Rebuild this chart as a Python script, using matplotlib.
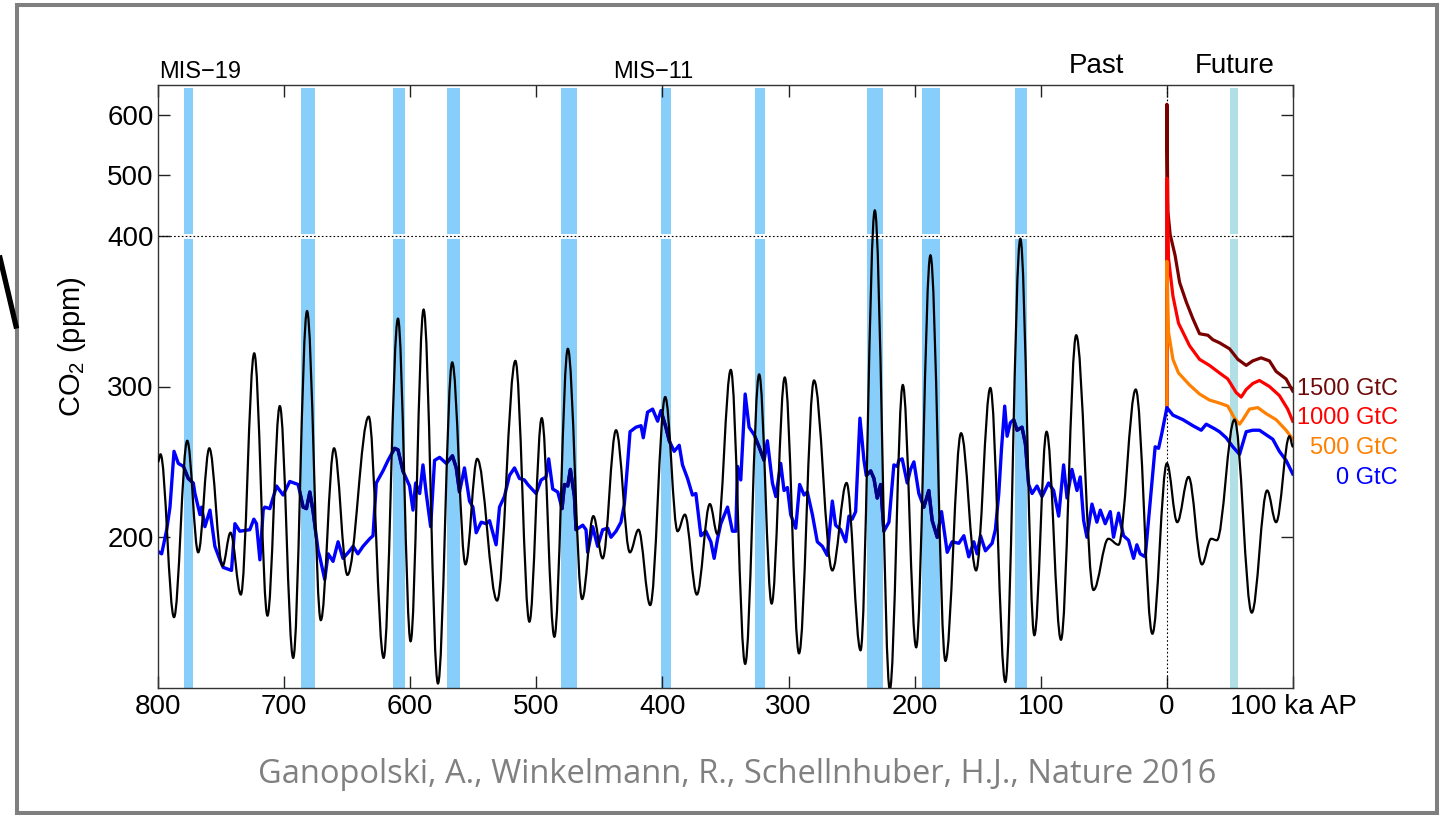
import matplotlib.pyplot as plt
import matplotlib.patches as mpatches
from matplotlib.path import Path
from matplotlib.lines import Line2D
from matplotlib.ticker import NullLocator
import numpy as np

plt.rcParams['font.family'] = ['Liberation Sans', 'DejaVu Sans']
plt.rcParams['mathtext.fontset'] = 'custom'
plt.rcParams['mathtext.rm'] = 'Liberation Sans'
plt.rcParams['mathtext.it'] = 'Liberation Sans:italic'

# time in ka (negative = past), CO2 in ppm
# black curve: turning points
black_t = [-800, -798, -787.3, -776.8, -768.1, -759.3, -748.8, -742.5, -734.3, -723.7,
           -713.2, -703.4, -692.8, -681.8, -670.9, -660.4, -649.8, -632.9, -621.1, -609.7,
           -599.7, -589.4, -578.0, -566.7, -556.2, -546.9, -531.1, -516.6, -505.5, -495.7,
           -485.7, -475.0, -463.7, -454.8, -447.4, -436.8, -425.8, -419.0, -409.7, -397.8,
           -388.0, -382.2, -372.7, -362.4, -356.4, -345.8, -334.4, -323.3, -313.4, -303.0,
           -291.7, -279.8, -265.3, -254.0, -242.9, -231.6, -219.7, -209.4, -198.8, -187.5,
           -175.6, -163.2, -151.3, -140.0, -128.1, -116.2, -105.1, -95.4, -84.0, -71.9,
           -58.2, -46.4, -38.4, -24.7, -11.5, 0.0, 8.2, 17.2, 27.8, 35.1,
           39.6, 53.6, 67.3, 79.5, 86.6, 97.2, 100]
black_v = [250, 255, 147, 264, 190, 259, 181, 203, 162, 322,
           148, 287, 120, 350, 145, 259, 175, 280, 120, 345,
           131, 351, 103, 316, 182, 252, 158, 317, 144, 279,
           134, 325, 159, 214, 186, 271, 190, 205, 155, 293,
           204, 215, 162, 222, 202, 311, 116, 308, 156, 306,
           123, 304, 178, 236, 125, 442, 99, 301, 127, 387,
           118, 269, 178, 299, 104, 398, 135, 270, 132, 334,
           165, 199, 195, 298, 136, 249, 210, 240, 182, 199,
           198, 278, 150, 231, 210, 267, 260]

# blue curve (0 GtC)
blue_t = [-798.9, -797.1, -793.1, -790.5, -787.3, -783.9, -779.9, -776.0, -772.0, -770.7,
          -766.7, -765.4, -762.8, -758.8, -754.9, -750.9, -748.3, -741.7, -739.0, -735.1,
          -727.2, -724.0, -721.9, -719.2, -716.6, -715.3, -711.3, -706.0, -700.8, -695.5,
          -688.9, -684.9, -682.3, -679.6, -677.0, -673.0, -671.7, -667.8, -665.1, -661.2,
          -657.2, -653.3, -648.0, -645.3, -641.5, -637.4, -632.1, -629.5, -626.9, -621.6,
          -617.6, -612.4, -609.7, -605.8, -600.5, -597.8, -595.7, -592.5, -589.9, -587.3,
          -583.8, -580.7, -576.7, -571.4, -566.5, -563.5, -560.9, -557.0, -553.0, -550.3,
          -547.7, -543.7, -539.8, -537.1, -531.9, -529.2, -525.3, -521.3, -517.3, -513.4,
          -509.4, -506.8, -500.2, -496.2, -492.3, -490.2, -487.0, -483.0, -479.6, -477.7,
          -475.1, -473.0, -469.8, -468.5, -463.2, -460.6, -459.3, -455.3, -451.4, -447.4,
          -443.4, -440.8, -436.8, -432.9, -430.2, -427.6, -425.7, -421.0, -417.0, -415.2,
          -411.8, -407.8, -403.8, -401.2, -397.3, -394.6, -390.7, -386.7, -384.1, -380.1,
          -376.2, -373.5, -369.5, -365.6, -361.6, -359.0, -356.3, -353.7, -348.4, -344.5,
          -341.8, -340.5, -337.9, -334.4, -331.3, -327.3, -323.4, -319.4, -316.8, -312.8,
          -310.1, -306.2, -303.6, -300.9, -298.3, -294.3, -291.2, -287.7, -285.1, -281.1,
          -277.2, -273.2, -269.3, -265.3, -262.7, -258.7, -254.7, -252.1, -249.5, -246.8,
          -243.4, -240.2, -238.4, -234.9, -232.3, -229.7, -227.0, -224.4, -220.4, -216.5,
          -213.8, -212.5, -209.9, -205.9, -203.3, -200.6, -196.7, -192.7, -188.8, -186.1,
          -182.1, -178.7, -174.2, -170.3, -165.0, -161.0, -157.1, -153.1, -150.5, -147.8,
          -143.9, -138.6, -136.0, -133.3, -131.2, -128.6, -126.7, -124.1, -121.5, -118.8,
          -114.9, -112.2, -109.6, -106.9, -103.0, -99.0, -93.8, -89.8, -85.8, -81.9,
          -79.2, -75.3, -71.3, -68.7, -66.0, -63.4, -59.4, -55.5, -52.8, -48.9,
          -44.9, -42.3, -38.3, -34.4, -30.4, -26.4, -23.8, -21.2, -17.2, -14.6,
          -11.9, -9.3, -6.6, -4.0, 0.0, 4.8, 12.7, 20.6, 27.2, 31.2,
          37.8, 41.7, 47.0, 52.3, 57.6, 62.9, 68.1, 73.4, 78.7, 84.0,
          89.2, 94.5, 99.8]
blue_v = [190, 189, 205, 220, 257, 249, 247, 239, 236, 229,
          215, 220, 207, 218, 194, 185, 180, 178, 209, 204,
          205, 212, 209, 185, 218, 220, 219, 234, 228, 237,
          235, 220, 219, 230, 217, 191, 187, 172, 189, 184,
          197, 186, 191, 194, 189, 194, 199, 201, 236, 244,
          251, 259, 258, 244, 234, 218, 236, 229, 248, 229,
          207, 251, 253, 249, 254, 246, 230, 246, 224, 220,
          203, 210, 209, 211, 195, 220, 227, 241, 246, 239,
          238, 235, 229, 238, 240, 252, 232, 230, 219, 235,
          234, 245, 227, 205, 208, 205, 190, 207, 194, 205,
          206, 200, 204, 210, 222, 249, 270, 273, 274, 266,
          283, 285, 277, 284, 273, 264, 257, 261, 248, 239,
          228, 229, 201, 204, 197, 186, 199, 209, 220, 204,
          204, 247, 238, 295, 273, 268, 260, 251, 264, 236,
          227, 249, 231, 233, 215, 206, 235, 228, 230, 215,
          197, 194, 188, 224, 208, 205, 197, 214, 212, 217,
          279, 251, 241, 244, 239, 226, 235, 204, 210, 248,
          247, 251, 252, 236, 245, 250, 229, 220, 231, 211,
          200, 217, 190, 197, 196, 201, 187, 197, 189, 201,
          191, 196, 205, 229, 258, 287, 267, 276, 278, 271,
          273, 262, 235, 229, 234, 227, 236, 231, 214, 248,
          226, 245, 231, 240, 211, 200, 222, 210, 218, 209,
          217, 200, 216, 201, 198, 186, 195, 189, 187, 211,
          236, 260, 259, 269, 286, 281, 278, 274, 271, 275,
          272, 270, 266, 260, 255, 270, 271, 271, 268, 265,
          257, 251, 242]

# future emission scenarios
gtc500_t = [0, 0, 1.3, 4.8, 9.2, 18.0, 25.9, 33.8, 41.7, 48.3, 53.6, 57.6, 60.2, 65.5,
            72.1, 78.7, 86.6, 94.5, 99.8]
gtc500_v = [286, 383, 336, 318, 309, 301, 295, 291, 289, 287, 279, 275, 278, 285,
            286, 282, 278, 271, 265]
gtc1000_t = [0, 0, 0.8, 1.3, 4.8, 9.2, 18.0, 25.9, 33.8, 41.7, 48.3, 54.9, 58.9, 62.9,
             68.1, 73.4, 81.3, 89.2, 95.8, 99.8]
gtc1000_v = [286, 495, 420, 385, 360, 342, 327, 318, 314, 309, 305, 296, 293, 298,
             302, 304, 300, 294, 285, 277]
gtc1500_t = [0, 0, 0.8, 2.6, 6.5, 10.1, 15.4, 20.6, 25.9, 32.5, 36.5, 41.7, 49.7, 56.3,
             62.9, 68.1, 74.7, 81.3, 86.6, 94.5, 99.8]
gtc1500_v = [286, 618, 440, 402, 387, 369, 356, 345, 335, 334, 331, 329, 325, 318,
             314, 317, 319, 317, 310, 305, 297]

# interglacial bands (ka)
bands = [(-779.5, -772.5), (-686.8, -675.2), (-613.6, -604.3), (-570.8, -560.2),
         (-480.1, -467.7), (-401.5, -393.6), (-326.3, -318.8), (-237.6, -225.4),
         (-194.0, -180.0), (-120.7, -111.2)]
future_band = (50.1, 56.2)

xticks = [-800, -700, -600, -500, -400, -300, -200, -100, 0, 100]
xlabels = ['800', '700', '600', '500', '400', '300', '200', '100', '0', '100 ka AP']
yticks = [200, 300, 400, 500, 600]


# axis is compressed above 400 ppm
def fwd(y):
    y = np.asarray(y, dtype=float)
    return np.where(y <= 400, y, 400 + (y - 400) * 0.4)


def inv(z):
    z = np.asarray(z, dtype=float)
    return np.where(z <= 400, z, 400 + (z - 400) / 0.4)


W, H = 1442, 815
fig = plt.figure(figsize=(W / 100, H / 100), dpi=100)
ax = fig.add_axes([158 / W, 1 - 688 / H, 1135 / W, 603 / H])
ax.set_yscale('function', functions=(fwd, inv))
ax.set_xlim(-800, 100)
ax.set_ylim(100, 650)

spans = []
for a, b in bands:
    spans.append(ax.axvspan(a, b, ymax=0.995, color='#87CEFA', lw=0, zorder=1))
ax.axvspan(*future_band, ymax=0.995, color='#B0E0E6', lw=0, zorder=1)

ax.axhline(400, color='white', lw=3.5, zorder=1.5)
ax.axhline(400, color='k', lw=0.8, ls=(0, (1.5, 2)), zorder=1.6)
ax.axvline(0, color='k', lw=0.8, ls=(0, (1.5, 2)), zorder=1.6)

# future scenarios
ax.plot(gtc1500_t, gtc1500_v, color='#7A0000', lw=2.3, zorder=2.2)
ax.plot(gtc1000_t, gtc1000_v, color='#FF0000', lw=2.3, zorder=2.3)
ax.plot(gtc500_t, gtc500_v, color='#FF8000', lw=2.3, zorder=2.4)

# blue, darker where it runs through a band
ax.plot(blue_t, blue_v, color='#0000FF', lw=2.4, zorder=2.5)
for sp in spans:
    ln, = ax.plot(blue_t, blue_v, color='#000080', lw=2.4, zorder=2.6)
    ln.set_clip_path(sp)

# black curve, smooth through its turning points
verts = [(black_t[0], black_v[0])]
codes = [Path.MOVETO]
for x0, y0, x1, y1 in zip(black_t[:-1], black_v[:-1], black_t[1:], black_v[1:]):
    d = (x1 - x0) * 0.36
    verts += [(x0 + d, y0), (x1 - d, y1), (x1, y1)]
    codes += [Path.CURVE4] * 3
ax.add_patch(mpatches.PathPatch(Path(verts, codes), fill=False, ec='k', lw=1.6, zorder=3))

ax.set_xticks(xticks)
ax.set_xticklabels(xlabels)
ax.set_yticks(yticks)
ax.set_yticklabels([str(v) for v in yticks])
ax.xaxis.set_minor_locator(NullLocator())
ax.yaxis.set_minor_locator(NullLocator())
ax.tick_params(direction='in', length=8.6, width=1, colors='#222222', labelcolor='k',
               top=True, right=True, labelsize=20)
ax.tick_params(axis='x', pad=4)
ax.tick_params(axis='y', pad=3)
for s in ax.spines.values():
    s.set_linewidth(1.0)
    s.set_color('#333333')

fig.text(72 / W, 1 - 347 / H, r'CO$_\mathrm{2}$ (ppm)', rotation=90, ha='center', va='center',
         fontsize=21)
fig.text(159 / W, 1 - 78 / H, 'MIS\u221219', fontsize=17, va='baseline')
fig.text(613 / W, 1 - 78 / H, 'MIS\u221211', fontsize=17, va='baseline')
fig.text(1096 / W, 1 - 73 / H, 'Past', fontsize=20, ha='center', va='baseline')
fig.text(1235 / W, 1 - 73 / H, 'Future', fontsize=20, ha='center', va='baseline')

fig.text(1398 / W, 1 - 395 / H, '1500 GtC', fontsize=17, ha='right', va='baseline', color='#6E0A0A')
fig.text(1398 / W, 1 - 424 / H, '1000 GtC', fontsize=17, ha='right', va='baseline', color='#FF0000')
fig.text(1398 / W, 1 - 454 / H, '500 GtC', fontsize=17, ha='right', va='baseline', color='#FF8000')
fig.text(1398 / W, 1 - 484 / H, '0 GtC', fontsize=17, ha='right', va='baseline', color='#0000FF')

fig.text(737 / W, 1 - 783 / H, 'Ganopolski, A., Winkelmann, R., Schellnhuber, H.J., Nature 2016',
         fontsize=23.5, ha='center', va='baseline', color='#808080', family=['Open Sans', 'DejaVu Sans'])

# slide frame and the stray stroke at the left edge
fig.add_artist(Line2D([0, 16 / W], [1 - 258 / H, 1 - 326 / H], transform=fig.transFigure,
                      color='k', lw=3.8))
fig.add_artist(mpatches.Rectangle((17 / W, 1 - 813 / H), 1420 / W, 808 / H, transform=fig.transFigure,
                                  fill=False, ec='#7F7F7F', lw=2.9))

fig.savefig('out.png', dpi=100)
